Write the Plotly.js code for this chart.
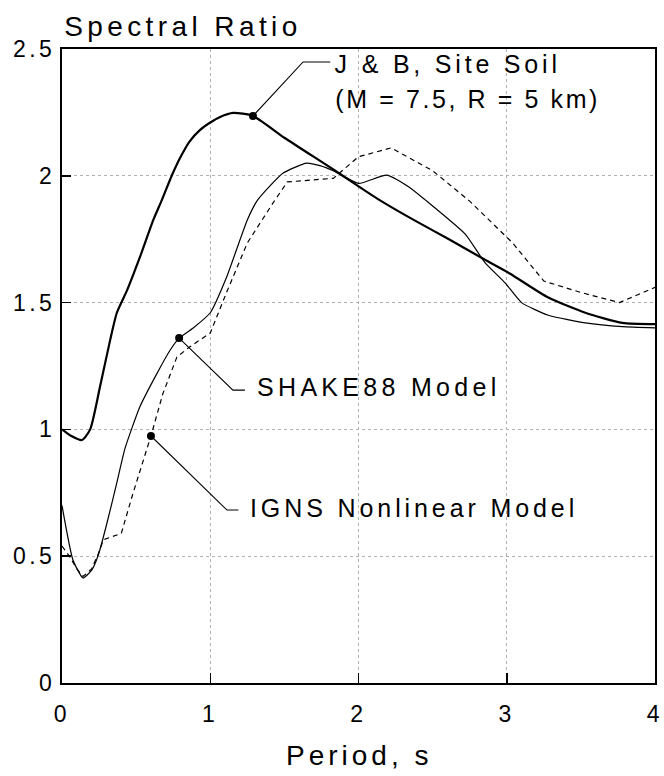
<!DOCTYPE html>
<html>
<head>
<meta charset="utf-8">
<script src="https://cdn.plot.ly/plotly-3.0.1.min.js"></script>
<style>
  html, body { margin: 0; padding: 0; background: #fff; }
  #chart { width: 664px; height: 776px; }
  .main-svg .xtick text, .main-svg .ytick text { letter-spacing: 3.5px; }
</style>
</head>
<body>
<div id="chart"></div>
<script>
// ---- data ----
const jbPeriod = [0, 0.06, 0.135, 0.19, 0.256, 0.324, 0.37, 0.44, 0.526, 0.616, 0.674, 0.74, 0.796, 0.86, 0.93, 1.0, 1.066, 1.155, 1.288, 1.5, 1.83, 2.14, 2.36, 2.61, 2.85, 3.02, 3.28, 3.53, 3.78, 4.0];
const jbRatio  = [1.0, 0.975, 0.958, 1.0, 1.167, 1.35, 1.46, 1.55, 1.68, 1.826, 1.905, 2.0, 2.07, 2.135, 2.18, 2.21, 2.232, 2.248, 2.236, 2.15, 2.025, 1.905, 1.83, 1.75, 1.67, 1.615, 1.52, 1.46, 1.42, 1.415];

const shakePeriod = [0, 0.074, 0.142, 0.2, 0.245, 0.3, 0.37, 0.425, 0.526, 0.64, 0.73, 0.79, 0.885, 1.0, 1.11, 1.25, 1.32, 1.49, 1.65, 1.74, 1.83, 2.0, 2.19, 2.34, 2.45, 2.72, 2.85, 2.99, 3.1, 3.28, 3.53, 3.78, 4.0];
const shakeRatio  = [0.70, 0.485, 0.414, 0.445, 0.505, 0.623, 0.79, 0.925, 1.09, 1.22, 1.313, 1.36, 1.40, 1.46, 1.6, 1.826, 1.905, 2.01, 2.05, 2.04, 2.02, 1.97, 2.003, 1.956, 1.905, 1.77, 1.66, 1.577, 1.5, 1.45, 1.42, 1.405, 1.40];

const ignsPeriod = [0, 0.05, 0.1, 0.142, 0.2, 0.245, 0.28, 0.40, 0.48, 0.6, 0.68, 0.775, 0.86, 1.0, 1.11, 1.25, 1.42, 1.52, 1.83, 2.0, 2.22, 2.5, 2.75, 3.04, 3.25, 3.5, 3.76, 4.0];
const ignsRatio  = [0.54, 0.50, 0.45, 0.42, 0.45, 0.51, 0.565, 0.59, 0.75, 0.974, 1.14, 1.285, 1.325, 1.38, 1.54, 1.735, 1.89, 1.976, 1.99, 2.075, 2.11, 2.02, 1.90, 1.735, 1.585, 1.54, 1.50, 1.56];

// labelled points on each curve
const dotPeriod = [1.288, 0.79, 0.6];
const dotRatio  = [2.236, 1.36, 0.974];

// leader lines: elbow and end of each label line
const labelTexts  = ["J & B, Site Soil", "SHAKE88 Model", "IGNS Nonlinear Model"];
const elbowPeriod = [1.626, 1.153, 1.113];
const elbowRatio  = [2.449, 1.155, 0.682];
const endPeriod   = [1.81, 1.234, 1.19];
const subLabel    = "(M = 7.5, R = 5 km)";
const chartTitle  = "Spectral Ratio";
const xTitle      = "Period, s";

const xTickVals = [0, 1, 2, 3, 4];
const yTickVals = [0, 0.5, 1, 1.5, 2, 2.5];

// ---- layout geometry (pixels) ----
const W = 664, H = 776;
const M = {l: 62, r: 9, t: 49, b: 93};
const plotH = H - M.t - M.b;
const plotW = W - M.l - M.r;
function py(p) { return (H - M.b - p) / plotH; }   // pixel y -> paper y
function px(p) { return (p - M.l) / plotW; }       // pixel x -> paper x

const FONT = "Liberation Sans, Arial, Helvetica, sans-serif";

const traces = [
  {x: jbPeriod, y: jbRatio, mode: 'lines', line: {color: '#000', width: 2.2, shape: 'spline', smoothing: 0.6}, hoverinfo: 'skip'},
  {x: shakePeriod, y: shakeRatio, mode: 'lines', line: {color: '#000', width: 1.2, shape: 'spline', smoothing: 0.5}, hoverinfo: 'skip'},
  {x: ignsPeriod, y: ignsRatio, mode: 'lines', line: {color: '#000', width: 1.2, dash: '5px,4px'}, hoverinfo: 'skip'}
];
for (let i = 0; i < dotPeriod.length; i++) {
  traces.push({
    x: [dotPeriod[i], elbowPeriod[i], endPeriod[i]],
    y: [dotRatio[i], elbowRatio[i], elbowRatio[i]],
    mode: 'lines', line: {color: '#000', width: 1.1}, hoverinfo: 'skip'
  });
}
traces.push({x: dotPeriod, y: dotRatio, mode: 'markers', marker: {color: '#000', size: 8}, hoverinfo: 'skip'});

const axisCommon = {
  showline: true, linecolor: '#000', linewidth: 2, mirror: true,
  ticks: 'inside', tickcolor: '#000', tickwidth: 1.5,
  showgrid: true, gridcolor: '#b0b0b0', gridwidth: 1, griddash: 'dot',
  zeroline: false, tickfont: {family: FONT, size: 23, color: '#000'}
};

// text labels: [text, left px, centre y px, font size, letter spacing px]
const labelSpecs = [
  [chartTitle,    62, 26, 28, 4.4],
  [labelTexts[0], 333, 64, 25, 3.8],
  [subLabel,      333, 99, 25, 2.6],
  [labelTexts[1], 255, 387, 25, 4.3],
  [labelTexts[2], 248, 508, 25, 3.9]
];
let css = '';
const annotations = labelSpecs.map(function (s, i) {
  css += '.main-svg g.annotation[data-index="' + i + '"] text { letter-spacing: ' + s[4] + 'px; }\n';
  return {
    text: s[0], xref: 'paper', yref: 'paper', x: px(s[1]), y: py(s[2]),
    xanchor: 'left', yanchor: 'middle', xshift: s[0].length * s[4] / 2,
    showarrow: false, font: {family: FONT, size: s[3], color: '#000'}
  };
});
annotations.push({text: xTitle, xref: 'paper', yref: 'paper', x: px(359), y: py(755),
  xanchor: 'center', yanchor: 'middle', showarrow: false, font: {family: FONT, size: 28, color: '#000'}});
css += '.main-svg g.annotation[data-index="' + labelSpecs.length + '"] text { letter-spacing: 4px; }\n';
const styleEl = document.createElement('style');
styleEl.textContent = css;
document.head.appendChild(styleEl);

const layout = {
  width: W, height: H, margin: M,
  paper_bgcolor: '#fff', plot_bgcolor: '#fff',
  showlegend: false,
  xaxis: Object.assign({}, axisCommon, {range: [0, 4], tickvals: xTickVals, ticklen: 10, ticklabelstandoff: 9}),
  yaxis: Object.assign({}, axisCommon, {range: [0, 2.5], tickvals: yTickVals, ticklen: 9, ticklabelstandoff: 0}),
  annotations: annotations
};

Plotly.newPlot('chart', traces, layout, {staticPlot: true, displayModeBar: false});
</script>
</body>
</html>
